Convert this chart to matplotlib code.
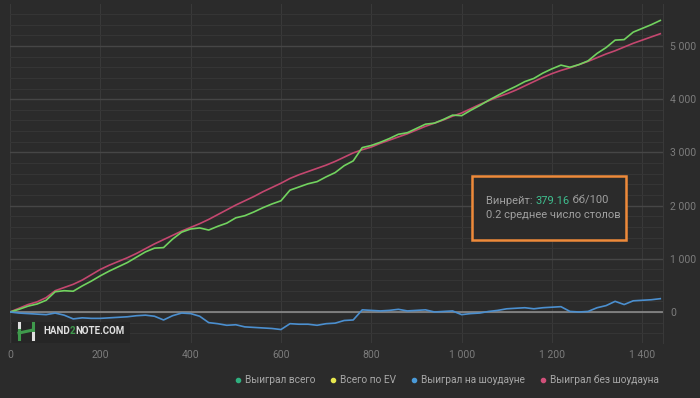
import matplotlib
matplotlib.use("Agg")
import matplotlib.pyplot as plt
from matplotlib.lines import Line2D
from matplotlib.patches import Rectangle
from matplotlib.ticker import FuncFormatter, MultipleLocator

plt.rcParams['font.family'] = ['Roboto', 'DejaVu Sans']

## Data (hands vs. winnings)
hands = list(range(0, 1441, 20))

won_nonsd = [0, 70, 140, 190, 270, 400, 460, 520, 600, 700,
             800, 880, 950, 1020, 1100, 1190, 1280, 1360, 1440, 1520,
             1590, 1660, 1740, 1830, 1920, 2010, 2090, 2170, 2260, 2340,
             2420, 2510, 2580, 2640, 2700, 2760, 2830, 2910, 2990, 3050,
             3100, 3170, 3230, 3290, 3350, 3420, 3490, 3550, 3610, 3680,
             3740, 3820, 3900, 3970, 4040, 4100, 4170, 4250, 4330, 4410,
             4480, 4540, 4590, 4650, 4710, 4780, 4850, 4910, 4980, 5050,
             5110, 5170, 5230]

won_sd = [0, -20, -30, -40, -50, -20, -60, -130, -110, -120,
          -120, -110, -100, -90, -70, -60, -80, -150, -70, -20,
          -30, -80, -200, -220, -250, -240, -280, -290, -300, -310,
          -330, -220, -230, -230, -250, -220, -210, -160, -150, 40,
          30, 20, 30, 50, 20, 30, 40, 0, 10, 20,
          -50, -30, -20, 10, 30, 60, 70, 80, 60, 80,
          90, 100, 10, 0, 10, 80, 120, 200, 140, 210,
          220, 230, 250]

won_total = [0, 50, 110, 150, 220, 380, 400, 390, 490, 580,
             680, 770, 850, 930, 1030, 1130, 1200, 1210, 1370, 1500,
             1560, 1580, 1540, 1610, 1670, 1770, 1810, 1880, 1960, 2030,
             2090, 2290, 2350, 2410, 2450, 2540, 2620, 2750, 2840, 3090,
             3130, 3190, 3260, 3340, 3370, 3450, 3530, 3550, 3620, 3700,
             3690, 3790, 3880, 3980, 4070, 4160, 4240, 4330, 4390, 4490,
             4570, 4640, 4600, 4650, 4720, 4860, 4970, 5110, 5120, 5260,
             5330, 5400, 5480]

legend_labels = ["Выиграл всего", "Всего по EV", "Выиграл на шоудауне", "Выиграл без шоудауна"]
legend_colors = ["#2fb07f", "#e6e64e", "#4a9ad8", "#d0507a"]

winrate = "379.16"

W, H = 700, 398
BG = '#2b2b2b'


def px(x, y):
    ## pixel position -> figure fraction
    return x / W, 1 - y / H


fig = plt.figure(figsize=(W / 100, H / 100), dpi=100, facecolor=BG)
ax = fig.add_axes([10 / W, 1 - 343 / H, 653 / W, 339 / H])
ax.set_facecolor(BG)
ax.set_xlim(0, 1446)
ax.set_ylim(-583, 5789)

ax.xaxis.set_major_locator(MultipleLocator(200))
ax.yaxis.set_major_locator(MultipleLocator(1000))
ax.yaxis.set_minor_locator(MultipleLocator(200))
ax.set_axisbelow(True)
ax.grid(which='minor', axis='y', color='#353535', lw=0.8)
ax.grid(which='major', axis='y', color='#464646', lw=1.0)
ax.grid(which='major', axis='x', color='#393939', lw=0.8)
ax.axhline(0, color='#8a8a8a', lw=1.2, zorder=1.5)

fmt = FuncFormatter(lambda v, p: f"{int(v):,}".replace(",", " "))
ax.xaxis.set_major_formatter(fmt)
ax.yaxis.set_major_formatter(fmt)
ax.yaxis.tick_right()
ax.tick_params(which='both', length=0, colors='#7c7c7c', labelsize=7.5, pad=5)

for s in ['top', 'left', 'bottom']:
    ax.spines[s].set_visible(False)
ax.spines['right'].set_color('#393939')

ax.plot(hands, won_nonsd, color='#c4476f', lw=1.2, zorder=3)
ax.plot(hands, won_total, color='#72d35f', lw=1.2, zorder=4)
ax.plot(hands, won_sd, color='#4b8fcf', lw=1.2, zorder=4)

## Legend
handles = [Line2D([], [], ls='', marker='o', markersize=3.0, color=c) for c in legend_colors]
fig.legend(handles, legend_labels, loc='center right', bbox_to_anchor=px(668, 380),
           ncol=4, frameon=False, fontsize=7.3, labelcolor='#a8a8a8',
           handlelength=0.8, handletextpad=0.3, columnspacing=1.35)

## Winrate box
bx, by = px(472, 240)
fig.patches.append(Rectangle((bx, by), 154 / W, 64 / H, transform=fig.transFigure,
                             facecolor=BG, edgecolor='#ee8a3a', lw=1.8, zorder=5))
renderer = fig.canvas.get_renderer()
tx, ty = px(486, 201)
parts = [("Винрейт: ", '#a0a0a0'), (winrate, '#3fbf8f'), (" бб/100", '#a0a0a0')]
for txt, col in parts:
    t = fig.text(tx, ty, txt, color=col, fontsize=8.0, va='center', zorder=6)
    bb = t.get_window_extent(renderer)
    tx += bb.width / W
fig.text(*px(486, 215), "0.2 среднее число столов", color='#a0a0a0',
         fontsize=8.0, va='center', zorder=6)

## Watermark logo
lx, ly = px(12, 343)
fig.patches.append(Rectangle((lx, ly), 118 / W, 21 / H, transform=fig.transFigure,
                             facecolor='#262626', edgecolor='none', zorder=5))
logo = [([19, 19], [323, 328], '#e0e0e0'), ([19, 19], [330, 339], '#3f9a4c'),
        ([19, 33], [333, 330], '#3f9a4c'), ([33, 33], [323, 331], '#3f9a4c'),
        ([33, 33], [333, 339], '#e0e0e0')]
for xs, ys, col in logo:
    fig.add_artist(Line2D([x / W for x in xs], [1 - y / H for y in ys],
                          color=col, lw=2.2, transform=fig.transFigure, zorder=6))
tx, ty = px(43, 331)
for txt, col in [("HAND", '#e0e0e0'), ("2", '#3f9a4c'), ("NOTE.COM", '#e0e0e0')]:
    t = fig.text(tx, ty, txt, color=col, fontsize=7, fontweight='bold', va='center', zorder=6)
    tx += t.get_window_extent(renderer).width / W

fig.savefig("out.png", dpi=100, facecolor=BG)
